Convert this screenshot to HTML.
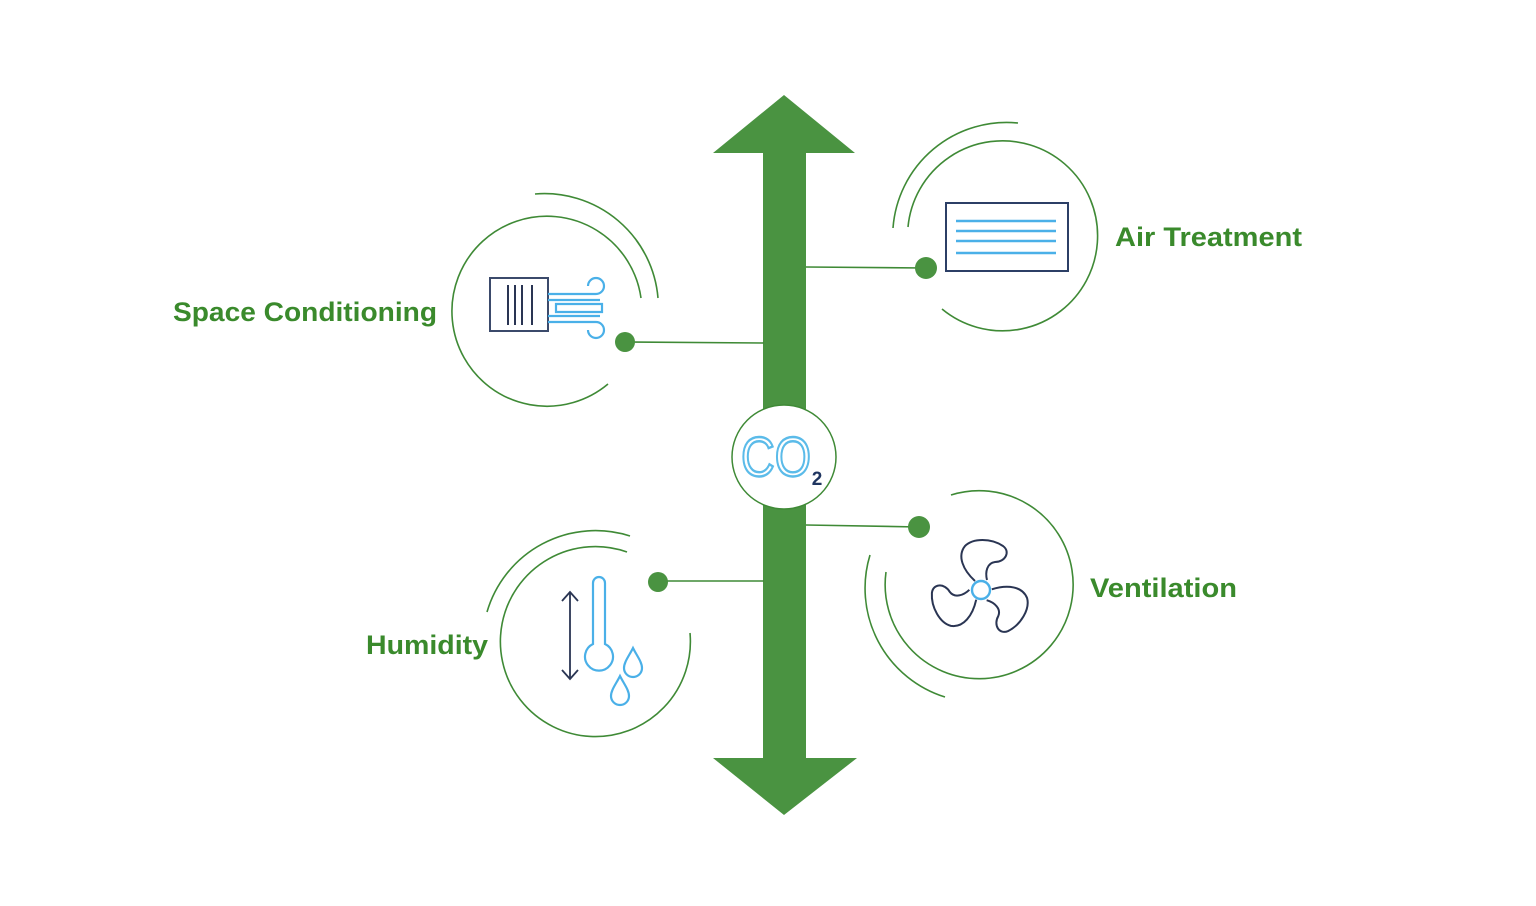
<!DOCTYPE html>
<html><head><meta charset="utf-8"><style>
html,body{margin:0;padding:0;background:#fff;}
svg{display:block;}
text{font-family:"Liberation Sans",sans-serif;font-weight:bold;}
</style></head><body>
<svg width="1536" height="906" viewBox="0 0 1536 906" xmlns="http://www.w3.org/2000/svg">
<rect width="1536" height="906" fill="#fff"/>
<g fill="#4a9341">
<polygon points="784,95 855,153 806,153 806,758 857,758 784,815 713,758 763,758 763,153 713,153"/>
</g>
<circle cx="784" cy="457" r="52" fill="#fff" stroke="#3f8a36" stroke-width="1.5"/>
<text x="741" y="476" font-size="56" fill="#fff" stroke="#5bbbe9" stroke-width="2.4" textLength="70" lengthAdjust="spacingAndGlyphs" style="font-weight:normal">CO</text>
<text x="817" y="485" font-size="19" fill="#1f3560" text-anchor="middle">2</text>

<g fill="none" stroke="#3f8a36" stroke-width="1.6">
<path d="M641,298 A95,95 0 1 0 608,384"/>
<path d="M535,194 A114,114 0 0 1 658,298"/>
<line x1="625" y1="342" x2="764" y2="343"/>
<path d="M908,227 A95,95 0 1 1 942,309"/>
<path d="M1018,123 A114,114 0 0 0 893,228"/>
<line x1="806" y1="267" x2="926" y2="268"/>
<path d="M690,633 A95,95 0 1 1 627,552"/>
<path d="M630,536 A113,113 0 0 0 487,612"/>
<line x1="658" y1="581" x2="764" y2="581"/>
<path d="M951,495 A94,94 0 1 1 886,572"/>
<path d="M870,555 A114,114 0 0 0 945,697"/>
<line x1="806" y1="525" x2="919" y2="527"/>
</g>
<g fill="#4a9341">
<circle cx="625" cy="342" r="10"/>
<circle cx="926" cy="268" r="11"/>
<circle cx="658" cy="582" r="10"/>
<circle cx="919" cy="527" r="11"/>
</g>

<g fill="#3a8a2c">
<text x="173" y="321" font-size="27" textLength="264" lengthAdjust="spacingAndGlyphs">Space Conditioning</text>
<text x="1115" y="246" font-size="27" textLength="187" lengthAdjust="spacingAndGlyphs">Air Treatment</text>
<text x="1090" y="597" font-size="27" textLength="147" lengthAdjust="spacingAndGlyphs">Ventilation</text>
<text x="366" y="654" font-size="27" textLength="122" lengthAdjust="spacingAndGlyphs">Humidity</text>
</g>

<rect x="490" y="278" width="58" height="53" fill="#fff" stroke="#3b4a6b" stroke-width="2"/>
<g stroke="#2a3553" stroke-width="2">
<line x1="508" y1="285" x2="508" y2="325"/><line x1="515" y1="285" x2="515" y2="325"/>
<line x1="522" y1="285" x2="522" y2="325"/><line x1="532" y1="285" x2="532" y2="325"/>
</g>
<g fill="none" stroke="#4ab0e8" stroke-width="2.2">
<path d="M548,294 H596 a8,8 0 1 0 -8,-8"/>
<path d="M548,300 H600"/>
<path d="M556,304 H602 V312 H556 Z"/>
<path d="M548,316 H600"/>
<path d="M548,322 H596 a8,8 0 1 1 -8,8"/>
</g>

<rect x="946" y="203" width="122" height="68" fill="#fff" stroke="#2c3f66" stroke-width="2"/>
<g stroke="#4ab0e8" stroke-width="2.4">
<line x1="956" y1="221" x2="1056" y2="221"/><line x1="956" y1="231" x2="1056" y2="231"/>
<line x1="956" y1="241" x2="1056" y2="241"/><line x1="956" y1="253" x2="1056" y2="253"/>
</g>

<g fill="none" stroke="#2a3553" stroke-width="1.8">
<line x1="570" y1="593" x2="570" y2="678"/>
<path d="M562,601 L570,592 L578,601"/>
<path d="M562,670 L570,679 L578,670"/>
</g>
<g fill="none" stroke="#4ab0e8" stroke-width="2.2">
<path d="M593,644 V583 a6,6 0 0 1 12,0 V644 a14,14 0 1 1 -12,0 Z"/>
<path d="M633,648 C629,656 624,662 624,668 a9,9 0 0 0 18,0 C642,662 637,656 633,648 Z"/>
<path d="M620,676 C616,684 611,690 611,696 a9,9 0 0 0 18,0 C629,690 624,684 620,676 Z"/>
</g>

<g transform="translate(981,590)" fill="none" stroke="#2a3553" stroke-width="2">
<path id="bl" d="M-6,-9 C-18,-20 -24,-34 -16,-44 C-8,-52 10,-52 22,-44 C30,-38 24,-28 14,-28 C6,-27 4,-18 6,-10"/>
<use href="#bl" transform="rotate(120)"/>
<use href="#bl" transform="rotate(240)"/>
<circle r="9" stroke="#4ab0e8" stroke-width="2.4" fill="#fff"/>
</g>
</svg>
</body></html>
